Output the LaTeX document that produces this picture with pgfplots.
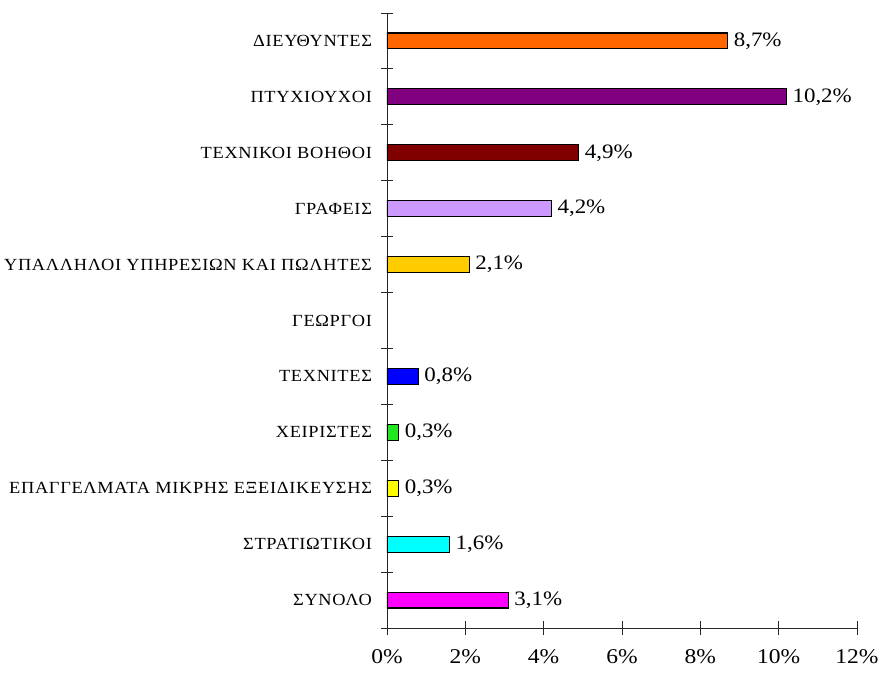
\documentclass[border=0pt]{standalone}
\usepackage{fontspec}
\setmainfont{Liberation Serif}[FakeStretch=1.12]
\newfontfamily\catfont{Liberation Serif}[FakeStretch=1.08, LetterSpace=4]
\usepackage{pgfplots}
\pgfplotsset{compat=1.18}
\definecolor{cDir}{HTML}{FF6600}
\definecolor{cPty}{HTML}{800080}
\definecolor{cTek}{HTML}{800000}
\definecolor{cGra}{HTML}{CC99FF}
\definecolor{cYpa}{HTML}{FFCC00}
\definecolor{cTex}{HTML}{0000FF}
\definecolor{cXei}{HTML}{22E622}
\definecolor{cEpa}{HTML}{FFFF00}
\definecolor{cStr}{HTML}{00FFFF}
\definecolor{cSyn}{HTML}{FF00FF}
\begin{document}
\begin{tikzpicture}
\begin{axis}[
  at={(0,0)}, anchor=south west,
  width=470bp, height=615bp, scale only axis,
  xbar, point meta=x,
  xmin=0, xmax=12, ymin=-0.5, ymax=10.5,
  axis x line*=bottom, axis y line*=left,
  axis line style={line width=0.9pt, black!85},
  xtick={0,2,...,12},
  xticklabel={\pgfmathprintnumber{\tick}\%},
  /pgf/number format/assume math mode=true,
  xticklabel style={font=\fontsize{21bp}{24bp}\selectfont, yshift=-11bp},
  ytick={0,...,10},
  yticklabels={ΣΥΝΟΛΟ,ΣΤΡΑΤΙΩΤΙΚΟΙ,ΕΠΑΓΓΕΛΜΑΤΑ ΜΙΚΡΗΣ ΕΞΕΙΔΙΚΕΥΣΗΣ,ΧΕΙΡΙΣΤΕΣ,ΤΕΧΝΙΤΕΣ,ΓΕΩΡΓΟΙ,ΥΠΑΛΛΗΛΟΙ ΥΠΗΡΕΣΙΩΝ ΚΑΙ ΠΩΛΗΤΕΣ,ΓΡΑΦΕΙΣ,ΤΕΧΝΙΚΟΙ ΒΟΗΘΟΙ,ΠΤΥΧΙΟΥΧΟΙ,ΔΙΕΥΘΥΝΤΕΣ},
  yticklabel style={font=\catfont\fontsize{17bp}{20bp}\selectfont, xshift=-4bp},
  minor ytick={-0.5,0.5,...,10.5},
  major tick length=15bp,
  minor tick length=12bp,
  major y tick style={draw=none},
  x tick style={black!85, line width=0.9pt},
  y tick style={black!85, line width=0.9pt},
  tick align=center,
  nodes near coords={\pgfmathprintnumber[fixed,precision=1,fixed zerofill,use comma]{\pgfplotspointmeta}\%},
  nodes near coords align={horizontal},
  every node near coord/.append style={font=\fontsize{20.5bp}{23bp}\selectfont, anchor=west, inner sep=5.5bp},
  bar width=0.286,
  every axis plot/.append style={bar shift=0pt, draw=black, line width=1.1pt},
]
\addplot[fill=cSyn] coordinates {(3.1,0)};
\addplot[fill=cStr] coordinates {(1.6,1)};
\addplot[fill=cEpa] coordinates {(0.3,2)};
\addplot[fill=cXei] coordinates {(0.3,3)};
\addplot[fill=cTex] coordinates {(0.8,4)};
\addplot[fill=cYpa] coordinates {(2.1,6)};
\addplot[fill=cGra] coordinates {(4.2,7)};
\addplot[fill=cTek] coordinates {(4.9,8)};
\addplot[fill=cPty] coordinates {(10.2,9)};
\addplot[fill=cDir] coordinates {(8.7,10)};
\end{axis}
\pgfresetboundingbox
\path[use as bounding box] (-387bp,-47bp) rectangle (493bp,628bp);
\end{tikzpicture}
\end{document}
